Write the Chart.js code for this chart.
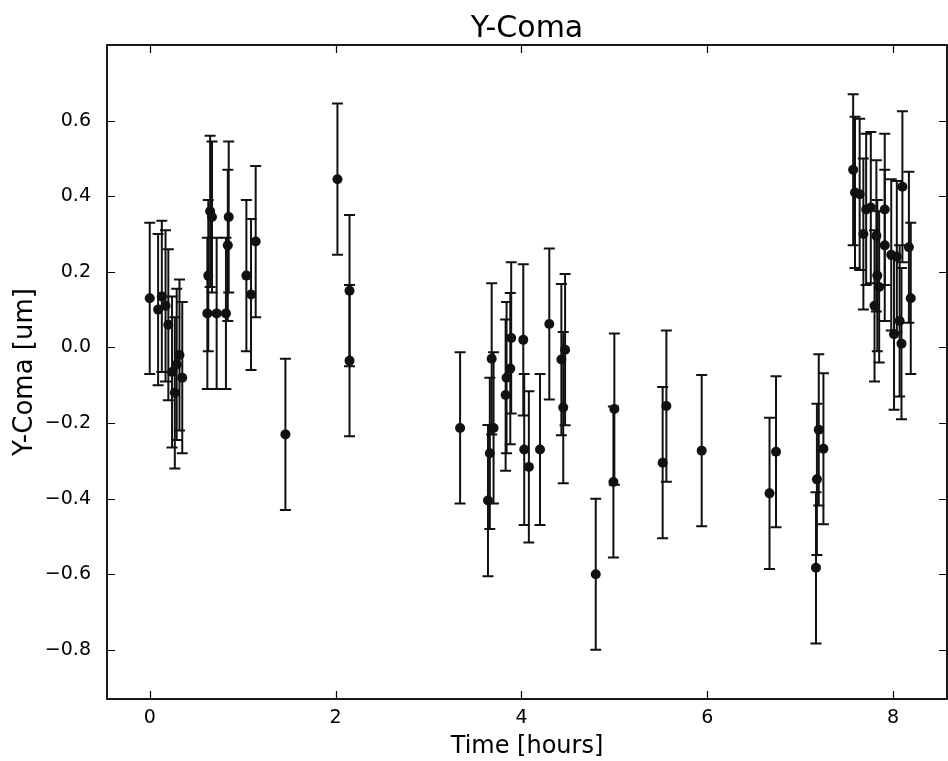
<!DOCTYPE html>
<html>
<head>
<meta charset="utf-8">
<title>Y-Coma</title>
<script src="https://cdn.jsdelivr.net/npm/chart.js@4.4.1/dist/chart.umd.min.js"></script>
<style>
    body { margin: 0; background: #fff; }
    #wrap { width: 948px; height: 761px; }
</style>
</head>
<body>
<div id="wrap"><canvas id="ycoma-chart" width="948" height="761"></canvas></div>
<script>
// values (time in hours, coma in um, error half-length)
var timeHours = [
    0.00, 0.09, 0.13, 0.17, 0.20, 0.24, 0.27, 0.29, 0.32, 0.35,
    0.62, 0.63, 0.65, 0.67, 0.72, 0.82, 0.84, 0.85, 1.04, 1.09, 1.14,
    1.46, 2.02, 2.15, 2.15,
    3.34, 3.64, 3.66, 3.68, 3.70, 3.83, 3.84, 3.88, 3.89, 4.02, 4.03,
    4.08, 4.20, 4.30, 4.43, 4.45, 4.47,
    4.80, 4.99, 5.00, 5.52, 5.56, 5.94, 6.67, 6.74, 7.17, 7.18, 7.20, 7.25,
    7.57, 7.59, 7.64, 7.68, 7.71, 7.76, 7.80, 7.82, 7.83, 7.85,
    7.91, 7.91, 7.98, 8.01, 8.04, 8.07, 8.09, 8.10, 8.17, 8.19
];
var yComa = [
    0.13, 0.10, 0.135, 0.11, 0.06, -0.065, -0.12, -0.045, -0.02, -0.08,
    0.09, 0.19, 0.36, 0.345, 0.09, 0.09, 0.27, 0.345, 0.19, 0.14, 0.28,
    -0.23, 0.445, 0.15, -0.035,
    -0.213, -0.405, -0.28, -0.03, -0.213, -0.126, -0.08, -0.056, 0.025, 0.02, -0.27,
    -0.316, -0.27, 0.062, -0.032, -0.159, -0.006,
    -0.60, -0.356, -0.163, -0.305, -0.155, -0.273, -0.386, -0.276, -0.583, -0.349, -0.218, -0.268,
    0.47, 0.41, 0.405, 0.30, 0.365, 0.37, 0.11, 0.295, 0.19, 0.16,
    0.365, 0.27, 0.245, 0.035, 0.24, 0.07, 0.01, 0.425, 0.265, 0.13
];
var yErr = [
    0.2, 0.2, 0.2, 0.2, 0.2, 0.2, 0.2, 0.2, 0.2, 0.2,
    0.2, 0.2, 0.2, 0.2, 0.2, 0.2, 0.2, 0.2, 0.2, 0.2, 0.2,
    0.2, 0.2, 0.2, 0.2,
    0.2, 0.2, 0.2, 0.2, 0.2, 0.2, 0.2, 0.2, 0.2, 0.2, 0.2,
    0.2, 0.2, 0.2, 0.2, 0.2, 0.2,
    0.2, 0.2, 0.2, 0.2, 0.2, 0.2, 0.2, 0.2, 0.2, 0.2, 0.2, 0.2,
    0.2, 0.2, 0.2, 0.2, 0.2, 0.2, 0.2, 0.2, 0.2, 0.2,
    0.2, 0.2, 0.2, 0.2, 0.2, 0.2, 0.2, 0.2, 0.2, 0.2
];
var xTicks = [0, 2, 4, 6, 8];
var yTicks = [-0.8, -0.6, -0.4, -0.2, 0.0, 0.2, 0.4, 0.6];

var FONT = "'DejaVu Sans', 'Liberation Sans', sans-serif";

// vertical error bars with caps, drawn under the markers
var errorBarPlugin = {
    id: 'errorBars',
    beforeDatasetsDraw: function(chart) {
        var ctx = chart.ctx;
        var xs = chart.scales.x, ys = chart.scales.y;
        ctx.save();
        ctx.strokeStyle = '#111';
        ctx.lineWidth = 2;
        for (var i = 0; i < timeHours.length; i++) {
            var px = xs.getPixelForValue(timeHours[i]);
            var top = ys.getPixelForValue(yComa[i] + yErr[i]);
            var bot = ys.getPixelForValue(yComa[i] - yErr[i]);
            ctx.beginPath();
            ctx.moveTo(px, top);
            ctx.lineTo(px, bot);
            ctx.moveTo(px - 5.5, top);
            ctx.lineTo(px + 5.5, top);
            ctx.moveTo(px - 5.5, bot);
            ctx.lineTo(px + 5.5, bot);
            ctx.stroke();
        }
        ctx.restore();
    }
};

// matplotlib-like frame with inward ticks on all four sides
var framePlugin = {
    id: 'frame',
    afterDraw: function(chart) {
        var ctx = chart.ctx, a = chart.chartArea;
        var xs = chart.scales.x, ys = chart.scales.y;
        var len = 8;
        ctx.save();
        ctx.strokeStyle = '#000';
        ctx.lineWidth = 1.2;
        ctx.beginPath();
        xTicks.forEach(function(v) {
            var p = Math.round(xs.getPixelForValue(v)) + 0.5;
            ctx.moveTo(p, a.bottom); ctx.lineTo(p, a.bottom - len);
            ctx.moveTo(p, a.top); ctx.lineTo(p, a.top + len);
        });
        yTicks.forEach(function(v) {
            var p = Math.round(ys.getPixelForValue(v)) + 0.5;
            ctx.moveTo(a.left, p); ctx.lineTo(a.left + len, p);
            ctx.moveTo(a.right, p); ctx.lineTo(a.right - len, p);
        });
        ctx.stroke();
        ctx.lineWidth = 1.8;
        ctx.strokeRect(a.left, a.top, a.right - a.left, a.bottom - a.top);
        ctx.restore();
    }
};

function fmtY(v) {
    return Number(v).toFixed(1).replace('-', '\u2212');
}

drawYComa();

function drawYComa() {
    var points = timeHours.map(function(t, i) {
        return { x: t, y: yComa[i] };
    });

    new Chart(document.getElementById('ycoma-chart'), {
        type: 'scatter',
        data: {
            datasets: [{
                label: 'Y-Coma',
                data: points,
                pointRadius: 5,
                pointHoverRadius: 5,
                pointBackgroundColor: '#111',
                pointBorderColor: '#111',
                pointBorderWidth: 0
            }]
        },
        options: {
            responsive: false,
            animation: false,
            devicePixelRatio: 1,
            layout: { autoPadding: false, padding: { left: 0, right: 1, top: 0, bottom: 0 } },
            plugins: {
                legend: { display: false },
                tooltip: { enabled: false },
                title: {
                    display: true,
                    text: 'Y-Coma',
                    fullSize: false,
                    color: '#000',
                    font: { family: FONT, size: 30, weight: 'normal', lineHeight: 1 },
                    padding: { top: 14, bottom: 1 }
                }
            },
            scales: {
                x: {
                    type: 'linear',
                    min: -0.46,
                    max: 8.58,
                    afterBuildTicks: function(scale) {
                        scale.ticks = xTicks.map(function(v) { return { value: v }; });
                    },
                    afterFit: function(scale) {
                        scale.height = 62;
                        scale.paddingLeft = 0;
                        scale.paddingRight = 0;
                    },
                    grid: { display: false, drawTicks: false },
                    border: { display: false },
                    ticks: {
                        color: '#000',
                        font: { family: FONT, size: 19 },
                        padding: 8,
                        maxRotation: 0,
                        callback: function(v) { return String(v); }
                    },
                    title: {
                        display: true,
                        text: 'Time [hours]',
                        color: '#000',
                        font: { family: FONT, size: 24 },
                        padding: { top: 0, bottom: 0 }
                    }
                },
                y: {
                    type: 'linear',
                    min: -0.93,
                    max: 0.8,
                    afterBuildTicks: function(scale) {
                        scale.ticks = yTicks.map(function(v) { return { value: v }; });
                    },
                    afterFit: function(scale) {
                        scale.width = 107;
                        scale.paddingTop = 0;
                        scale.paddingBottom = 0;
                    },
                    grid: { display: false, drawTicks: false },
                    border: { display: false },
                    ticks: {
                        color: '#000',
                        font: { family: FONT, size: 19 },
                        padding: 16,
                        callback: function(v) { return fmtY(v); }
                    },
                    title: {
                        display: true,
                        text: 'Y-Coma [um]',
                        color: '#000',
                        font: { family: FONT, size: 26 },
                        padding: { top: 10, bottom: 0 }
                    }
                }
            }
        },
        plugins: [errorBarPlugin, framePlugin]
    });
}
</script>
</body>
</html>
